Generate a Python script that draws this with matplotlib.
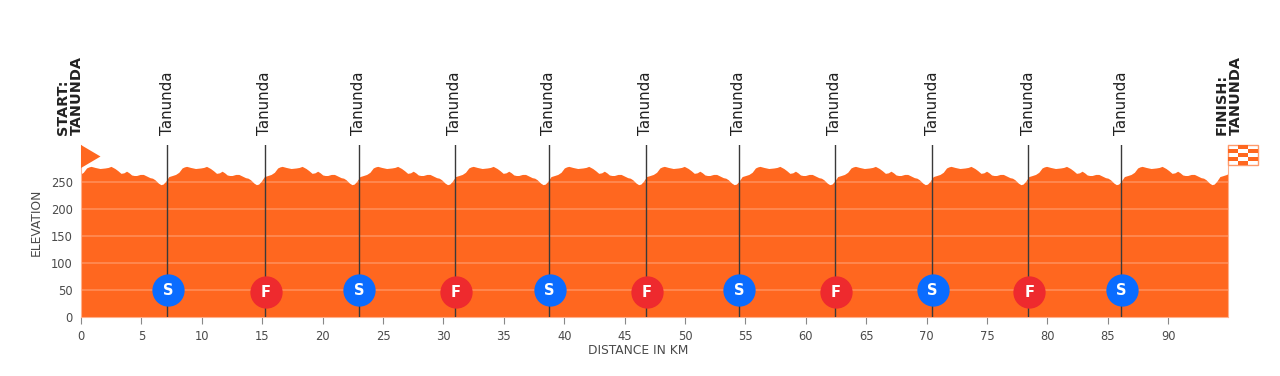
import matplotlib
matplotlib.use('Agg')
import matplotlib.pyplot as plt
from matplotlib.patches import Polygon, Rectangle

# one lap of the circuit, starting at the dip
lap_km = [0.00, 0.18, 0.39, 0.66, 0.95, 1.22, 1.49, 1.76, 1.95, 2.13, 2.30, 2.46, 2.87, 3.29, 3.55,
          3.78, 4.11, 4.35, 4.61, 4.85, 5.07, 5.28, 5.49, 5.70, 5.90, 6.20, 6.46, 7.01, 7.22, 7.43, 7.70]
lap_elev = [246, 247, 252, 261, 263, 265, 269, 277, 279, 280, 279, 278, 276, 277, 278,
            280, 276, 272, 267, 268, 271, 268, 264, 263, 263, 265, 265, 259, 258, 255, 249]
lap_length = 7.91
first_dip = -1.30
n_laps = 13

xticks = list(range(0, 95, 5))
yticks = [0, 50, 100, 150, 200, 250]

sprint_km = [7.12, 23.0, 38.74, 54.47, 70.45, 86.1]
finish_km = [15.23, 30.96, 46.77, 62.4, 78.4]
sprint_marker_x = [7.2, 23.05, 38.8, 54.5, 70.5, 86.15]
finish_marker_x = [15.3, 31.05, 46.85, 62.5, 78.5]
place_name = 'Tanunda'

ORANGE = '#ff671f'
PALE = '#ffb08c'
DARK = '#3a3a3a'
GREY = '#4a4a4a'

# the same lap is ridden 13 times, so its readings are laid end to end
dist = []
elev = []
for i in range(n_laps):
    dist += [first_dip + i * lap_length + k for k in lap_km]
    elev += lap_elev

fig = plt.figure(figsize=(12.8, 3.76), dpi=100)
ax = fig.add_axes([81 / 1280, 1 - 317 / 376, 1147 / 1280, 172 / 376])

ax.fill_between(dist, 0, elev, color=ORANGE, linewidth=0, zorder=1)
ax.set_xlim(0, 94.95)
ax.set_ylim(0, 319.7)

# light gridlines only show over the orange
for y in yticks[1:]:
    ax.plot([0, 94.95], [y, y], color='white', alpha=0.25, linewidth=1.2, zorder=2)

for k in sorted(sprint_km + finish_km):
    ax.axvline(k, color=DARK, linewidth=1.0, zorder=3)
    ax.annotate(place_name, (k, 1), xycoords=('data', 'axes fraction'), xytext=(0, 7),
                textcoords='offset points', rotation=90, ha='center', va='bottom',
                fontsize=10.9, color='#222222')

ax.scatter(sprint_marker_x, [50] * len(sprint_marker_x), s=540, color='#0a6cff', zorder=4, linewidth=0)
ax.scatter(finish_marker_x, [46] * len(finish_marker_x), s=540, color='#ee2a2e', zorder=4, linewidth=0)
for k in sprint_marker_x:
    ax.text(k, 50, 'S', color='white', fontsize=10.5, fontweight='bold', ha='center', va='center', zorder=5)
for k in finish_marker_x:
    ax.text(k, 46, 'F', color='white', fontsize=10.5, fontweight='bold', ha='center', va='center', zorder=5)

ax.spines['top'].set_visible(False)
for side in ['left', 'right', 'bottom']:
    ax.spines[side].set_color(PALE)
ax.set_xticks(xticks)
ax.set_yticks(yticks)
ax.tick_params(axis='x', length=5, width=0.8, color='#888888', labelsize=8.3, labelcolor=GREY, pad=4)
ax.tick_params(axis='y', length=0, labelsize=8.3, labelcolor=GREY, pad=6)
fig.text(638 / 1280, 1 - 351 / 376, 'DISTANCE IN KM', fontsize=8.8, color=GREY, ha='center', va='center')
fig.text(36 / 1280, 1 - 222 / 376, 'ELEVATION', fontsize=8.8, color=GREY, rotation=90, ha='center', va='center')


# start pennant and finish flag sit outside the plot area, placed in figure pixels
def px(x, y):
    return (x / 1280, 1 - y / 376)


fig.add_artist(Polygon([px(81, 145), px(100.5, 156.5), px(81, 168)], closed=True,
                       transform=fig.transFigure, color=ORANGE, linewidth=0, zorder=6))
x0, y0 = 1228, 145
cw, ch = 10, 4
fig.add_artist(Rectangle(px(x0, y0 + 5 * ch), 3 * cw / 1280, 5 * ch / 376, transform=fig.transFigure,
                         facecolor='white', edgecolor='#ff9a6b', linewidth=1, zorder=6))
for r in range(5):
    for c in range(3):
        if (r + c) % 2 == 1:
            fig.add_artist(Rectangle(px(x0 + c * cw, y0 + (r + 1) * ch), cw / 1280, ch / 376,
                                     transform=fig.transFigure, facecolor=ORANGE, linewidth=0, zorder=7))

for xpos, top, bottom in [(63, 'START:', 'TANUNDA'), (1222, 'FINISH:', 'TANUNDA')]:
    for offset, word in [(0, top), (14, bottom)]:
        fig.text((xpos + offset) / 1280, 1 - 135 / 376, word, rotation=90, ha='center', va='bottom',
                 fontsize=10.4, fontweight='bold', color='#222222')

plt.savefig('out.png', dpi=100)
plt.close()
